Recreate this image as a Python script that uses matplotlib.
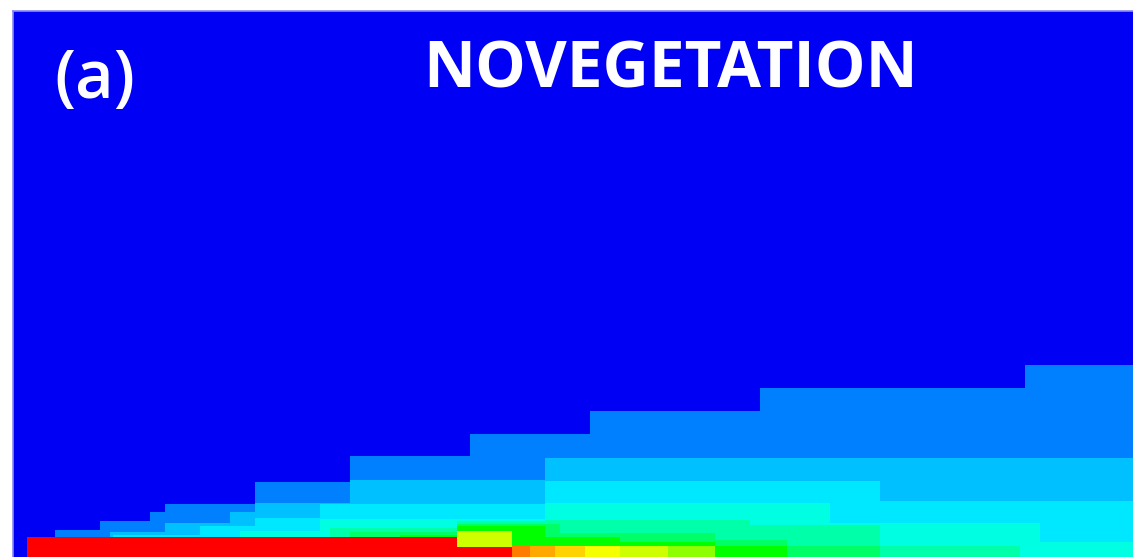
import numpy as np
import matplotlib
matplotlib.use("Agg")
import matplotlib.pyplot as plt
from matplotlib.colors import ListedColormap, hsv_to_rgb

# ---------------- data (distance along channel x, height above bed h) ----------------
domain_length = 1120
domain_height = 546

# each band: scalar level, x breakpoints, band top height per segment
band1_level = 0.125
band1_x = [42, 87, 137, 152, 242, 337, 457, 577, 747, 1012, 1120]
band1_h = [27, 36, 45, 53, 75, 101, 123, 146, 169, 192]

band2_level = 0.1875
band2_x = [97, 152, 217, 242, 337, 532, 1120]
band2_h = [25, 34, 45, 54, 77, 99]

band3_level = 0.229
band3_x = [100, 187, 242, 307, 532, 867, 1120]
band3_h = [22, 31, 39, 53, 76, 56]

band4_level = 0.28
band4_x = [227, 307, 532, 817, 1027, 1120]
band4_h = [26, 38, 54, 34, 15]

band5_level = 0.333
band5_x = [317, 444, 532, 737, 867, 1007]
band5_h = [29, 36, 37, 32, 11]

band6_level = 0.40
band6_x = [337, 444, 547, 702, 774, 867]
band6_h = [25, 33, 24, 17, 11]

band7_level = 0.5
band7_x = [387, 444, 532, 607, 702, 774]
band7_h = [22, 31, 20, 15, 11]

band8_level = 0.64
band8_x = [444, 702]
band8_h = [11]

band9_level = 0.70
band9_x = [444, 499, 655]
band9_h = [26, 11]

band10_level = 0.74
band10_x = [572, 607]
band10_h = [11]

band11_level = 0.79
band11_x = [542, 572]
band11_h = [11]

band12_level = 0.833
band12_x = [517, 542]
band12_h = [11]

band13_level = 0.875
band13_x = [499, 517]
band13_h = [11]

inlet_level = 1.0
inlet_x = [14, 444, 499]
inlet_h = [20, 10]

panel_label = "(a)"
title_text = "NOVEGETATION"

bands = [
    (band1_level, band1_x, band1_h), (band2_level, band2_x, band2_h),
    (band3_level, band3_x, band3_h), (band4_level, band4_x, band4_h),
    (band5_level, band5_x, band5_h), (band6_level, band6_x, band6_h),
    (band7_level, band7_x, band7_h), (band8_level, band8_x, band8_h),
    (band9_level, band9_x, band9_h), (band10_level, band10_x, band10_h),
    (band11_level, band11_x, band11_h), (band12_level, band12_x, band12_h),
    (band13_level, band13_x, band13_h), (inlet_level, inlet_x, inlet_h),
]

# ---------------- field ----------------
X = np.arange(domain_length) + 0.5
Y = np.arange(domain_height) + 0.5
field = np.zeros((domain_height, domain_length))
for lev, xb, hb in bands:
    for i, top in enumerate(hb):
        mx = (X >= xb[i]) & (X < xb[i + 1])
        my = Y < top
        sub = np.ix_(my, mx)
        field[sub] = np.maximum(field[sub], lev)

# Fluent-like rainbow: hue 240 (blue) -> 0 (red)
hues = np.linspace(240, 0, 256) / 360.0
rgb = hsv_to_rgb(np.stack([hues, np.ones(256), np.ones(256)], axis=1))
rgb[0] = [0, 0, 0.96]
cmap = ListedColormap(rgb)

W, H = 1133, 557
fig = plt.figure(figsize=(W / 100, H / 100), dpi=100)
ax = fig.add_axes([13 / W, 0, (W - 13) / W, (H - 11) / H])
ax.imshow(field, origin="lower", extent=(0, domain_length, 0, domain_height),
          cmap=cmap, vmin=0, vmax=1, interpolation="nearest", aspect="auto")
ax.set_xlim(0, domain_length)
ax.set_ylim(0, domain_height)
ax.set_xticks([])
ax.set_yticks([])
for side, s in ax.spines.items():
    if side in ("right", "bottom"):
        s.set_visible(False)
    else:
        s.set_color("#8a8af5")
        s.set_linewidth(1.2)

ax.text(82, 459, panel_label, color="white", fontsize=48, family="Open Sans",
        fontweight="semibold", ha="center", va="baseline")
ax.text(658, 469, title_text, color="white", fontsize=46, family="Open Sans",
        fontweight="bold", ha="center", va="baseline")

fig.savefig("out.png", dpi=100)
